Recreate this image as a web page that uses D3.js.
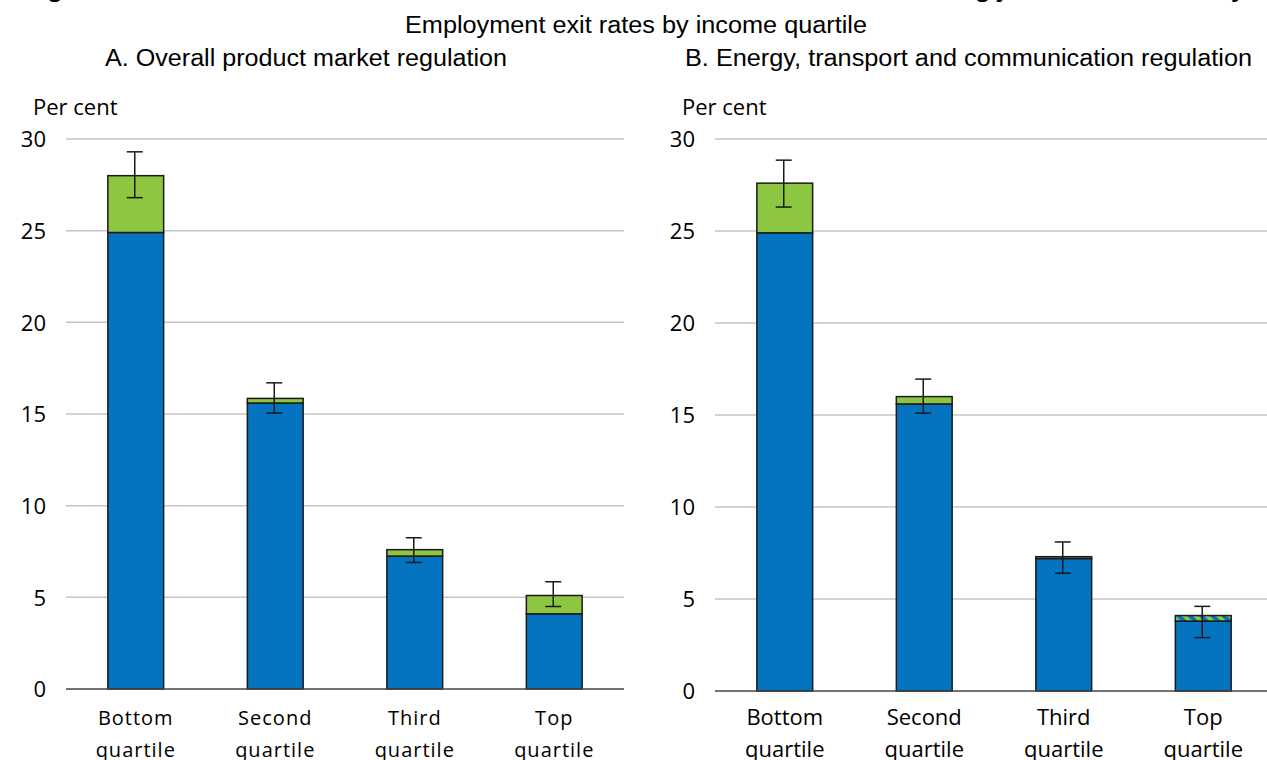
<!DOCTYPE html>
<html lang="en">
<head>
    <meta charset="UTF-8">
    <title>Employment exit rates by income quartile</title>
    <script src="https://d3js.org/d3.v7.min.js"></script>
    <style>
        body { margin: 0; background: #fff; }
        .title { font-family: "Liberation Sans", Arial, sans-serif; fill: #000; }
        .tick text, .unit { font-family: "Open Sans", "Noto Sans", sans-serif; fill: #000; }
    </style>
</head>
<body>
    <svg width="1267" height="760"></svg>

    <script>
        // Data
        const categories = ["Bottom quartile", "Second quartile", "Third quartile", "Top quartile"];
        const yTicks = [0, 5, 10, 15, 20, 25, 30];

        // Panel A: overall product market regulation
        const baseA = [24.9, 15.6, 7.25, 4.1];
        const effectA = [3.1, 0.25, 0.35, 1.0];
        const errLowA = [26.8, 15.05, 6.9, 4.5];
        const errHighA = [29.3, 16.7, 8.25, 5.85];
        const signifA = [true, true, true, true];

        // Panel B: energy, transport and communication regulation
        const baseB = [24.9, 15.6, 7.2, 3.8];
        const effectB = [2.7, 0.4, 0.1, 0.3];
        const errLowB = [26.3, 15.1, 6.4, 2.9];
        const errHighB = [28.85, 16.95, 8.1, 4.6];
        const signifB = [true, true, true, false];

        const blue = "#0474c0";
        const green = "#8dc641";

        const svg = d3.select("svg");

        // hatch pattern for the non-significant effect
        const defs = svg.append("defs");
        const pat = defs.append("pattern")
            .attr("id", "hatch")
            .attr("patternUnits", "userSpaceOnUse")
            .attr("width", 8).attr("height", 8)
            .attr("patternTransform", "rotate(-45)");
        pat.append("rect").attr("width", 8).attr("height", 8).attr("fill", blue);
        pat.append("rect").attr("width", 4).attr("height", 8).attr("fill", green);

        // titles (the top one is cut off by the frame in the reference)
        svg.append("text").attr("class", "title")
            .attr("x", 25).attr("y", -3)
            .attr("font-weight", "bold")
            .attr("font-size", 22)
            .attr("textLength", 1220).attr("lengthAdjust", "spacingAndGlyphs")
            .text("Figure 2. Product market reforms increase low-income workers' risk of becoming jobless considerably");

        svg.append("text").attr("class", "title")
            .attr("x", 405).attr("y", 33)
            .attr("font-size", 23)
            .attr("textLength", 462).attr("lengthAdjust", "spacingAndGlyphs")
            .text("Employment exit rates by income quartile");

        function drawPanel(opts) {
            const g = svg.append("g");
            const x = d3.scaleBand().domain(categories).range([opts.left, opts.right]).paddingInner(0.6).paddingOuter(0.3);
            const y = d3.scaleLinear().domain([0, 30]).range([opts.bottom, opts.top]);

            g.append("text").attr("class", "title")
                .attr("x", opts.titleX).attr("y", 66)
                .attr("font-size", 23)
                .attr("textLength", opts.titleLen).attr("lengthAdjust", "spacingAndGlyphs")
                .text(opts.title);

            g.append("text").attr("class", "unit")
                .attr("x", opts.left - 33).attr("y", 115)
                .attr("font-size", 22)
                .text("Per cent");

            // gridlines
            g.selectAll(".grid").data(yTicks.filter(d => d > 0)).join("line")
                .attr("x1", opts.left).attr("x2", opts.right)
                .attr("y1", d => y(d)).attr("y2", d => y(d))
                .attr("stroke", "#c6c6c6").attr("stroke-width", 1.5);

            // y axis labels
            const yAxis = g.append("g")
                .attr("transform", `translate(${opts.left - 20},0)`)
                .call(d3.axisLeft(y).tickValues(yTicks).tickSize(0).tickPadding(0));
            yAxis.select(".domain").remove();
            yAxis.selectAll("text").attr("font-size", 22).attr("dy", "0.35em");

            const idx = d3.range(categories.length);

            // base (blue) bars
            g.selectAll(".base").data(idx).join("rect")
                .attr("x", i => x(categories[i]))
                .attr("width", x.bandwidth())
                .attr("y", i => y(opts.base[i]))
                .attr("height", i => y(0) - y(opts.base[i]))
                .attr("fill", blue)
                .attr("stroke", "#1a1a1a").attr("stroke-width", 1.5);

            // effect (green) bars
            g.selectAll(".effect").data(idx).join("rect")
                .attr("x", i => x(categories[i]))
                .attr("width", x.bandwidth())
                .attr("y", i => y(opts.base[i] + opts.effect[i]))
                .attr("height", i => y(opts.base[i]) - y(opts.base[i] + opts.effect[i]))
                .attr("fill", i => opts.signif[i] ? green : "url(#hatch)")
                .attr("stroke", "#1a1a1a").attr("stroke-width", 1.5);

            // x axis
            const xAxis = g.append("g")
                .attr("transform", `translate(0,${opts.bottom})`)
                .call(d3.axisBottom(x).tickSize(0).tickPadding(0));
            xAxis.select(".domain")
                .attr("d", `M${opts.left},0H${opts.right}`)
                .attr("stroke", "#444").attr("stroke-width", 1.5);
            xAxis.selectAll(".tick text").each(function (d) {
                const t = d3.select(this).text(null)
                    .attr("font-size", 22).attr("y", 0).attr("dy", null);
                if (opts.spaced) t.attr("letter-spacing", 1).attr("font-family", "'DejaVu Sans', sans-serif").attr("font-size", 20);
                d.split(" ").forEach((p, k) => {
                    t.append("tspan").attr("x", 0).attr("y", opts.labelY + k * 32).text(p);
                });
            });

            // error bars
            const cap = 8;
            const errs = g.selectAll(".err").data(idx).join("g")
                .attr("transform", i => `translate(${x(categories[i]) + x.bandwidth() / 2 - 1},0)`);
            errs.append("line")
                .attr("y1", i => y(opts.errLow[i])).attr("y2", i => y(opts.errHigh[i]))
                .attr("stroke", "#1a1a1a").attr("stroke-width", 1.5);
            errs.append("line")
                .attr("x1", -cap).attr("x2", cap)
                .attr("y1", i => y(opts.errLow[i])).attr("y2", i => y(opts.errLow[i]))
                .attr("stroke", "#1a1a1a").attr("stroke-width", 1.5);
            errs.append("line")
                .attr("x1", -cap).attr("x2", cap)
                .attr("y1", i => y(opts.errHigh[i])).attr("y2", i => y(opts.errHigh[i]))
                .attr("stroke", "#1a1a1a").attr("stroke-width", 1.5);
        }

        drawPanel({
            left: 66, right: 624, top: 139, bottom: 689,
            title: "A. Overall product market regulation", titleX: 105, titleLen: 402,
            base: baseA, effect: effectA, errLow: errLowA, errHigh: errHighA, signif: signifA,
            spaced: true, labelY: 36
        });

        drawPanel({
            left: 715, right: 1273, top: 139, bottom: 691,
            title: "B. Energy, transport and communication regulation", titleX: 685, titleLen: 567,
            base: baseB, effect: effectB, errLow: errLowB, errHigh: errHighB, signif: signifB,
            spaced: false, labelY: 34
        });
    </script>
</body>
</html>
